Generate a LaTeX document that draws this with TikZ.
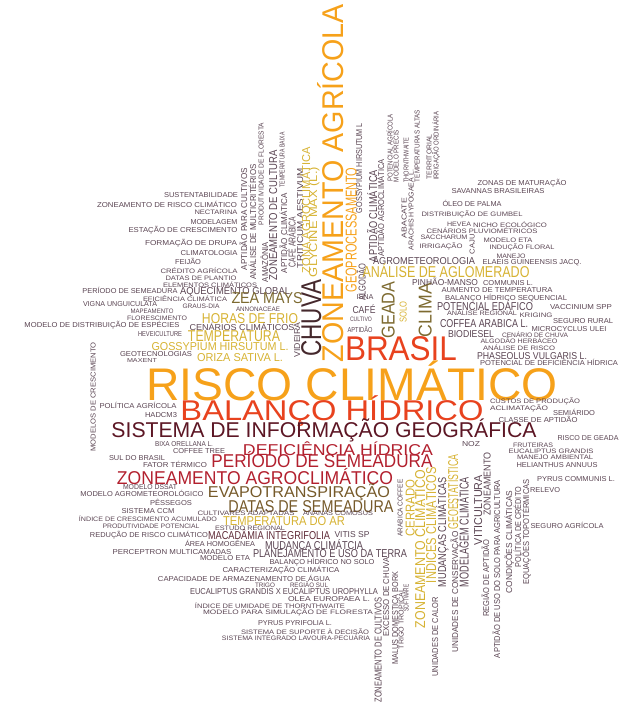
\documentclass[tikz,border=0pt]{standalone}
\usepackage{fontspec}
\setmainfont{Liberation Sans}
\usepackage{graphicx}
\definecolor{cloudorange}{HTML}{F6A11A}
\definecolor{cloudred}{HTML}{E8421E}
\definecolor{cloudcrimson}{HTML}{B2202E}
\definecolor{cloudmaroon}{HTML}{5C1624}
\definecolor{cloudbrown}{HTML}{765A2A}
\definecolor{cloudolive}{HTML}{7D6A30}
\definecolor{cloudgold}{HTML}{D6B232}
\definecolor{cloudchuva}{HTML}{45282C}
\definecolor{cloudmac}{HTML}{5E2A36}
\definecolor{clouddark}{HTML}{5A4452}
\tikzset{
    word/.style={inner sep=0pt, outer sep=0pt, anchor=center},
    vword/.style={word, rotate=90}
}
\newcounter{wn}
% fit a text to width #1 and cap height #2
\newcommand{\wfit}[3]{\resizebox{#1pt}{#2pt}{\rule{0pt}{0.7em}\smash{#3}}}
\newcommand{\hw}[6]{\stepcounter{wn}\node[word, text=#5] (w\thewn) at (#1,#2) {\wfit{#3}{#4}{#6}};}
\newcommand{\vw}[6]{\stepcounter{wn}\node[vword, text=#5] (w\thewn) at (#1,#2) {\wfit{#3}{#4}{#6}};}

\begin{document}
\begin{tikzpicture}[x=1pt, y=-1pt]
    \useasboundingbox (0,0) rectangle (627,722);

    % big words
    \hw{352}{384}{411}{32}{cloudorange}{RISCO CLIMÁTICO}
    \vw{333}{183}{358}{21}{cloudorange}{ZONEAMENTO AGRÍCOLA}
    \hw{401}{348}{112}{24}{cloudred}{BRASIL}
    \hw{332}{410}{303}{20}{cloudred}{BALANÇO HÍDRICO}
    \hw{324}{430}{425}{15}{cloudmaroon}{SISTEMA DE INFORMAÇÃO GEOGRÁFICA}
    \hw{338}{450}{190}{11}{cloudcrimson}{DEFICIÊNCIA HÍDRICA}
    \hw{322}{461}{221}{13}{cloudcrimson}{PERÍODO DE SEMEADURA}
    \hw{255}{478}{276}{13}{cloudcrimson}{ZONEAMENTO AGROCLIMÁTICO}
    \hw{299}{492}{182}{11}{cloudbrown}{EVAPOTRANSPIRAÇÃO}
    \hw{311}{506}{165}{12}{cloudbrown}{DATAS DE SEMEADURA}

    % upper left
    \hw{201}{195}{74}{5}{clouddark}{SUSTENTABILIDADE}
    \hw{167}{205}{140}{5}{clouddark}{ZONEAMENTO DE RISCO CLIMÁTICO}
    \hw{216}{212}{43}{4.5}{clouddark}{NECTARINA}
    \hw{214}{222}{47}{5}{clouddark}{MODELAGEM}
    \hw{183}{230}{109}{5}{clouddark}{ESTAÇÃO DE CRESCIMENTO}
    \hw{191}{243}{92}{5}{clouddark}{FORMAÇÃO DE DRUPA}
    \hw{209}{253}{57}{5}{clouddark}{CLIMATOLOGIA}
    \hw{188}{262}{26}{5}{clouddark}{FEIJÃO}
    \hw{199}{271}{77}{4.5}{clouddark}{CRÉDITO AGRÍCOLA}
    \hw{201}{278}{71}{4.5}{clouddark}{DATAS DE PLANTIO}
    \hw{210}{285}{94}{4.5}{clouddark}{ELEMENTOS CLIMÁTICOS}
    \hw{130}{291}{95}{5}{clouddark}{PERÍODO DE SEMEADURA}
    \hw{235}{291}{110}{7}{clouddark}{AQUECIMENTO GLOBAL}
    \hw{185}{299}{84}{4.5}{clouddark}{EFICIÊNCIA CLIMÁTICA}
    \hw{267}{298}{71}{11}{cloudolive}{ZEA MAYS}
    \hw{120}{304}{74}{5}{clouddark}{VIGNA UNGUICULATA}
    \hw{201}{306}{37}{4.5}{clouddark}{GRAUS-DIA}
    \hw{258}{309}{44}{4.5}{clouddark}{ANNONACEAE}
    \hw{152}{311}{43}{4.5}{clouddark}{MAPEAMENTO}
    \hw{157}{318}{60}{4.5}{clouddark}{FLORESCIMENTO}
    \hw{250}{318}{96}{10}{cloudgold}{HORAS DE FRIO}
    \hw{102}{325}{155}{5}{clouddark}{MODELO DE DISTRIBUIÇÃO DE ESPÉCIES}
    \hw{242}{327}{105}{6}{clouddark}{CENÁRIOS CLIMÁTICOS}
    \hw{160}{334}{44}{5}{clouddark}{HEVEICULTURE}
    \hw{234}{336}{92}{11}{cloudgold}{TEMPERATURA}
    \hw{220}{346}{137}{8}{cloudgold}{GOSSYPIUM HIRSUTUM L.}
    \hw{156}{354}{72}{5}{clouddark}{GEOTECNOLOGIAS}
    \hw{142}{360}{30}{4}{clouddark}{MAXENT}
    \hw{240}{357}{86}{8}{cloudgold}{ORIZA SATIVA L.}

    % upper vertical words
    \vw{244}{219}{102}{6}{clouddark}{APTIDÃO PARA CULTIVOS}
    \vw{253}{222}{115}{6}{clouddark}{ANÁLISE DE MULTICRITÉRIOS}
    \vw{261}{174}{102}{5}{clouddark}{PRODUTIVIDADE DE FLORESTA}
    \vw{265}{262}{40}{6}{clouddark}{AMAZÔNIA}
    \vw{273}{215}{130}{8}{clouddark}{ZONEAMENTO DE CULTURA}
    \vw{282}{160}{55}{5}{clouddark}{TEMPERATURA BAIXA}
    \vw{284}{233}{80}{6}{clouddark}{APTIDÃO CLIMÁTICA}
    \vw{292}{242}{50}{7}{clouddark}{CAFÉ ARÁBICA}
    \vw{300}{218}{100}{6}{clouddark}{TRITICUM AESTIVUM}
    \vw{306}{210}{126}{8}{cloudgold}{ZONA AGROCLIMÁTICA}
    \vw{313}{222}{110}{8}{cloudgold}{GLYCINE MAX (L.)}
    \vw{311}{318}{77}{20}{cloudchuva}{CHUVA}
    \vw{297}{340}{35}{6}{clouddark}{VIDEIRA}
    \vw{351}{230}{125}{11}{cloudorange}{GEOPROCESSAMENTO}
    \vw{359}{168}{90}{6}{clouddark}{GOSSYPIUM HIRSUTUM L}
    \vw{362}{282}{37}{7}{clouddark}{ALGODÃO}
    \vw{373}{216}{92}{8}{clouddark}{APTIDÃO CLIMÁTICA}
    \vw{381}{208}{97}{6}{clouddark}{APTIDÃO AGROCLIMÁTICA}
    \vw{390}{148}{67}{5}{clouddark}{POTENCIAL AGRÍCOLA}
    \vw{396}{156}{52}{5}{clouddark}{MODELO PRECIS}
    \vw{406}{160}{45}{5}{clouddark}{THORNTHWAITE}
    \vw{404}{218}{40}{5}{clouddark}{ABACATE}
    \vw{411}{210}{80}{5}{clouddark}{ARACHIS HYPOGAEA L.}
    \vw{417}{146}{72}{5}{clouddark}{TEMPERATURAS ALTAS}
    \vw{429}{157}{45}{5}{clouddark}{TERRITORIAL}
    \vw{436}{146}{68}{5}{clouddark}{IRRIGAÇÃO ORDINÁRIA}

    % centre
    \hw{365}{297}{17}{5}{clouddark}{ISNA}
    \hw{364}{310}{23}{7}{clouddark}{CAFÉ}
    \hw{361}{319}{22}{4.5}{clouddark}{CULTIVO}
    \hw{360}{330}{25}{5}{clouddark}{APTIDÃO}
    \vw{388}{310}{57}{13}{cloudolive}{GEADA}
    \vw{403}{312}{21}{7}{cloudgold}{SOLO}
    \vw{425}{310}{54}{13}{cloudolive}{CLIMA}

    % upper right
    \hw{522}{183}{89}{5}{clouddark}{ZONAS DE MATURAÇÃO}
    \hw{498}{191}{93}{5}{clouddark}{SAVANNAS BRASILEIRAS}
    \hw{472}{204}{59}{5}{clouddark}{ÓLEO DE PALMA}
    \hw{472}{214}{101}{4.5}{clouddark}{DISTRIBUIÇÃO DE GUMBEL}
    \hw{459}{224}{24}{4.5}{clouddark}{HEVEA}
    \hw{510}{225}{74}{4.5}{clouddark}{NICHO ECOLÓGICO}
    \hw{482}{231}{111}{4.5}{clouddark}{CENÁRIOS PLUVIOMÉTRICOS}
    \hw{444}{237}{47}{4.5}{clouddark}{SACCHARUM}
    \vw{472}{244}{20}{5}{clouddark}{CAJU}
    \hw{508}{240}{49}{4.5}{clouddark}{MODELO ETA}
    \hw{441}{246}{43}{4.5}{clouddark}{IRRIGAÇÃO}
    \hw{522}{247}{65}{4.5}{clouddark}{INDUÇÃO FLORAL}
    \hw{511}{256}{29}{4.5}{clouddark}{MANEJO}
    \hw{532}{262}{99}{5}{clouddark}{ELAEIS GUINEENSIS JACQ.}
    \hw{424}{261}{102}{7}{clouddark}{AGROMETEOROLOGIA}
    \hw{446}{272}{167}{11}{cloudgold}{ANÁLISE DE AGLOMERADO}
    \hw{445}{282}{66}{6}{clouddark}{PINHÃO-MANSO}
    \hw{508}{283}{50}{5}{clouddark}{COMMUNIS L.}
    \hw{497}{290}{111}{5}{clouddark}{AUMENTO DE TEMPERATURA}
    \hw{506}{298}{122}{5}{clouddark}{BALANÇO HÍDRICO SEQUENCIAL}
    \hw{485}{306}{96}{8}{clouddark}{POTENCIAL EDÁFICO}
    \hw{581}{307}{62}{5}{clouddark}{VACCINIUM SPP}
    \hw{482}{313}{70}{4.5}{clouddark}{ANÁLISE REGIONAL}
    \hw{536}{315}{33}{4.5}{clouddark}{KRIGING}
    \hw{583}{321}{60}{5}{clouddark}{SEGURO RURAL}
    \hw{484}{323}{88}{8}{clouddark}{COFFEA ARABICA L.}
    \hw{569}{329}{75}{5}{clouddark}{MICROCYCLUS ULEI}
    \hw{471}{334}{46}{7}{clouddark}{BIODIESEL}
    \hw{535}{335}{66}{4.5}{clouddark}{CENÁRIO DE CHUVA}
    \hw{519}{341}{77}{4.5}{clouddark}{ALGODÃO HERBÁCEO}
    \hw{519}{348}{72}{4.5}{clouddark}{ANÁLISE DE RISCO}
    \hw{532}{356}{110}{7}{clouddark}{PHASEOLUS VULGARIS L.}
    \hw{549}{363}{138}{5}{clouddark}{POTENCIAL DE DEFICIÊNCIA HÍDRICA}

    % lower right
    \hw{535}{401}{90}{4.5}{clouddark}{CUSTOS DE PRODUÇÃO}
    \hw{519}{408}{58}{4.5}{clouddark}{ACLIMATAÇÃO}
    \hw{574}{413}{42}{5}{clouddark}{SEMIÁRIDO}
    \hw{538}{420}{79}{5}{clouddark}{CLASSE DE APTIDÃO}
    \hw{471}{444}{18}{5}{clouddark}{NOZ}
    \hw{588}{438}{61}{5}{clouddark}{RISCO DE GEADA}
    \hw{533}{445}{40}{4.5}{clouddark}{FRUTEIRAS}
    \hw{551}{451}{85}{4.5}{clouddark}{EUCALIPTUS GRANDIS}
    \hw{555}{457}{76}{4.5}{clouddark}{MANEJO AMBIENTAL}
    \hw{557}{465}{81}{5}{clouddark}{HELIANTHUS ANNUUS}
    \hw{576}{479}{78}{5}{clouddark}{PYRUS COMMUNIS L.}
    \hw{545}{490}{30}{5}{clouddark}{RELEVO}
    \hw{567}{526}{73}{5}{clouddark}{SEGURO AGRÍCOLA}

    % lower vertical words
    \vw{400}{508}{57}{5}{clouddark}{ARABICA COFFEE}
    \vw{410}{508}{57}{9}{cloudgold}{CERRADO}
    \vw{420}{549}{158}{10}{cloudgold}{ZONEAMENTO CLIMÁTICO}
    \vw{431}{525}{116}{10}{cloudgold}{ÍNDICES CLIMÁTICOS}
    \vw{442}{532}{110}{8}{clouddark}{MUDANÇAS CLIMÁTICAS}
    \vw{453}{492}{75}{10}{cloudgold}{GEOESTATÍSTICA}
    \vw{455}{592}{121}{6}{clouddark}{UNIDADES DE CONSERVAÇÃO}
    \vw{435}{637}{79}{6}{clouddark}{UNIDADES DE CALOR}
    \vw{464}{532}{110}{9}{clouddark}{MODELAGEM CLIMÁTICA}
    \vw{478}{510}{70}{8}{clouddark}{VITICULTURA}
    \vw{487}{484}{63}{7}{clouddark}{ZONEAMENTO}
    \vw{486}{578}{77}{6}{clouddark}{REGIÃO DE APTIDÃO}
    \vw{497}{569}{178}{6}{clouddark}{APTIDÃO DE USO DO SOLO PARA AGRICULTURA}
    \vw{509}{542}{103}{6}{clouddark}{CONDIÇÕES CLIMÁTICAS}
    \vw{518}{527}{80}{6}{clouddark}{POLÍTICA DE CRÉDITO}
    \vw{526}{532}{105}{6}{clouddark}{EQUAÇÕES TOPOTÉRMICAS}

    % lower left
    \vw{93}{397}{109}{5}{clouddark}{MODELOS DE CRESCIMENTO}
    \hw{138}{406}{77}{5}{clouddark}{POLÍTICA AGRÍCOLA}
    \hw{161}{415}{32}{5}{clouddark}{HADCM3}
    \hw{184}{444}{58}{5}{clouddark}{BIXA ORELLANA L.}
    \hw{199}{451}{52}{5}{clouddark}{COFFEE TREE}
    \hw{137}{458}{56}{5}{clouddark}{SUL DO BRASIL}
    \hw{175}{465}{64}{5}{clouddark}{FATOR TÉRMICO}
    \hw{150}{487}{54}{5}{clouddark}{MODELO DSSAT}
    \hw{142}{494}{123}{5}{clouddark}{MODELO AGROMETEOROLÓGICO}
    \hw{171}{503}{42}{5}{clouddark}{PÊSSEGOS}
    \hw{148}{511}{53}{5}{clouddark}{SISTEMA CCM}
    \hw{246}{513}{97}{4.5}{clouddark}{CULTIVARES ADAPTADAS}
    \hw{338}{513}{70}{4.5}{clouddark}{ANANAS COMOSUS}
    \hw{148}{519}{138}{4.5}{clouddark}{ÍNDICE DE CRESCIMENTO ACUMULADO}
    \hw{284}{521}{122}{9}{cloudgold}{TEMPERATURA DO AR}
    \hw{151}{526}{97}{4.5}{clouddark}{PRODUTIVIDADE POTENCIAL}
    \hw{250}{528}{70}{4.5}{clouddark}{ESTUDO REGIONAL}
    \hw{149}{535}{118}{5}{clouddark}{REDUÇÃO DE RISCO CLIMÁTICO}
    \hw{269}{535}{122}{8}{cloudmac}{MACADÂMIA INTEGRIFOLIA}
    \hw{352}{534}{35}{6}{clouddark}{VITIS SP}
    \hw{220}{544}{70}{5}{clouddark}{ÁREA HOMOGÊNEA}
    \hw{314}{545}{98}{8}{clouddark}{MUDANÇA CLIMÁTCIA}
    \hw{172}{552}{119}{5}{clouddark}{PERCEPTRON MULTICAMADAS}
    \hw{330}{553}{154}{8}{clouddark}{PLANEJAMENTO E USO DA TERRA}
    \hw{225}{558}{50}{5}{clouddark}{MODELO ETA}
    \hw{322}{562}{105}{5}{clouddark}{BALANÇO HÍDRICO NO SOLO}
    \hw{281}{570}{117}{5}{clouddark}{CARACTERIZAÇÃO CLIMÁTICA}
    \hw{244}{579}{172}{5}{clouddark}{CAPACIDADE DE ARMAZENAMENTO DE ÁGUA}
    \hw{265}{585}{20}{4.5}{clouddark}{TRIGO}
    \hw{309}{585}{38}{4.5}{clouddark}{REGIÃO SUL}
    \hw{284}{591}{188}{6}{clouddark}{EUCALIPTUS GRANDIS X EUCALIPTUS UROPHYLLA}
    \hw{329}{599}{82}{5}{clouddark}{OLEA EUROPAEA L.}
    \hw{270}{606}{150}{4.5}{clouddark}{ÍNDICE DE UMIDADE DE THORNTHWAITE}
    \hw{288}{612}{170}{4.5}{clouddark}{MODELO PARA SIMULAÇÃO DE FLORESTA}
    \hw{295}{623}{74}{5}{clouddark}{PYRUS PYRIFOLIA L.}
    \hw{305}{632}{128}{4.5}{clouddark}{SISTEMA DE SUPORTE À DECISÃO}
    \hw{296}{638}{148}{4.5}{clouddark}{SISTEMA INTEGRADO LAVOURA-PECUÁRIA}
    \vw{378}{650}{105}{7}{clouddark}{ZONEAMENTO DE CULTIVOS}
    \vw{386}{597}{79}{6}{clouddark}{EXCESSO DE CHUVA}
    \vw{395}{618}{93}{6}{clouddark}{MALUS DOMESTICA BORK}
    \vw{401}{619}{60}{5}{clouddark}{TRIGO TROPICAL}
    \vw{406}{598}{27}{5}{clouddark}{SOFTWARE}
\end{tikzpicture}
\end{document}
